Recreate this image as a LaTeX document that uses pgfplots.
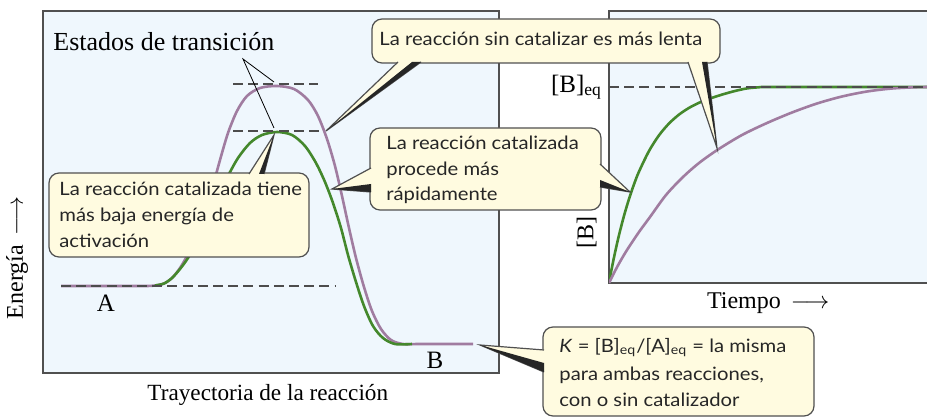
\documentclass[border=0pt]{standalone}
\usepackage{fontspec}
\setmainfont{Liberation Serif}
\newfontfamily\callfont[FakeStretch=1.1]{Lato}
\usepackage{pgfplots}
\pgfplotsset{compat=1.18}

\definecolor{bgblue}{RGB}{239,247,253}
\definecolor{cream}{RGB}{255,251,224}
\definecolor{frame}{RGB}{80,80,80}
\definecolor{curvpur}{RGB}{160,124,160}
\definecolor{curvgrn}{RGB}{68,136,44}

\pgfplotsset{
  panel/.style={
    scale only axis, anchor=south west, y dir=reverse,
    xtick=\empty, ytick=\empty,
    axis line style={draw=frame, line width=0.7pt},
    axis background/.style={fill=bgblue},
    label style={font=\fontsize{12}{14}\selectfont},
  },
  eqline/.style={draw=black!70, line width=0.7pt, dash pattern=on 5pt off 2.6pt},
}
\tikzset{
  callbox/.style={fill=cream, draw=frame, line width=0.6pt, rounded corners=5pt},
  calltext/.style={anchor=base west, inner sep=0pt, text=black!85,
    font=\callfont\fontsize{9.2}{13}\selectfont},
}
% pointer: base 1, base 2, tip, inner point of the dark wedge
\newcommand\pointer[4]{%
  \path[fill=cream, draw=frame, line width=0.6pt] #1 -- #3 -- #2;
  \fill[black!85] #2 -- #3 -- #4 -- cycle;}

\begin{document}
\begin{tikzpicture}
% energy profile (coordinates in pixels of the reference, y downwards)
\begin{axis}[panel,
  at={(21.5pt,22.5pt)}, width=228pt, height=181pt,
  xmin=43, xmax=499, ymin=11, ymax=373,
  xlabel={Trayectoria de la reacción},
  ylabel={Energía \,$\longrightarrow$},
  xlabel style={at={(axis description cs:0.493,-0.061)}, anchor=center,
    font=\fontsize{11.6}{14}\selectfont},
  ylabel style={at={(axis description cs:-0.057,0.318)}, anchor=center},
]
% uncatalysed
\addplot[curvpur, line width=1.3pt, smooth] coordinates {
  (61,286) (110,286) (145,286) (155,285.5) (164,283.5) (172,278) (180,268) (188,254)
  (196,236) (204,214) (212,189) (220,160) (228,133) (237,111) (247,96)
  (260,88) (277,86) (294,89) (308,100) (318,116) (327,139) (335,166)
  (342,196) (349,228) (356,258) (364,287) (372,311) (381,329) (391,340)
  (403,344) (420,344) (473,344)};
% catalysed
\addplot[curvgrn, line width=1.3pt, smooth] coordinates {
  (155,285.5) (164,283.5) (172,278) (180,269) (188,258) (197,242) (207,222)
  (218,197) (228,176) (238,158) (250,143) (262,135) (277,132) (292,135)
  (305,146) (316,163) (325,182) (333,203) (341,228) (348,255) (356,282)
  (364,306) (373,326) (383,338) (395,344) (412,344)};
\addplot[eqline] coordinates {(61,286) (336,286)};
\addplot[eqline] coordinates {(233,84) (318,84)};
\addplot[eqline] coordinates {(233,131) (323,131)};
\end{axis}

% concentration of B against time
\begin{axis}[panel,
  at={(304.5pt,67.5pt)}, width=162.5pt, height=136pt,
  xmin=609, xmax=934, ymin=11, ymax=283,
  ytick={87}, yticklabels={[B]\textsubscript{eq}},
  major tick length=0pt,
  yticklabel style={font=\fontsize{12.5}{14}\selectfont},
  xlabel={Tiempo \,$\longrightarrow$},
  ylabel={[B]},
  xlabel style={at={(axis description cs:0.49,-0.074)}, anchor=center},
  ylabel style={at={(axis description cs:-0.069,0.184)}, anchor=center},
]
\addplot[curvgrn, line width=1.3pt, smooth] coordinates {
  (609,283) (612,267.2) (615,252.7) (619,235.1) (624,215.8) (629,199)
  (634,184.3) (639,171.6) (649,151) (659,135.3) (669,123.5) (679,114.6)
  (689,107.9) (699,102.8) (709,98.9) (722,94.6) (735,91) (747,88.4)
  (759,87.3) (774,87) (934,87)};
\addplot[curvpur, line width=1.3pt, smooth] coordinates {
  (609,283) (614,273) (619,263.5) (627,250) (639,232) (650,217) (666,195)
  (683,177) (699,163) (718,149.5) (742,135) (767,123) (792,112.5)
  (817,103.5) (842,96.5) (867,91.5) (892,88.5) (917,87.2) (934,87)};
\addplot[eqline] coordinates {(609,87) (934,87)};
\end{axis}

% annotations (pixels of the reference, y downwards)
\begin{scope}[x=0.5pt, y=-0.5pt, yshift=209pt]
\draw[line width=0.4pt] (274,82) -- (243,59) -- (274,128);
\node[anchor=base west, inner sep=0pt, font=\fontsize{13}{15}\selectfont]
  at (53,51) {Estados de transición};
\node[font=\fontsize{12.5}{14}\selectfont] at (106,303) {A};
\node[font=\fontsize{12.5}{14}\selectfont] at (435,360) {B};

% catalysed reaction has lower activation energy
\draw[callbox] (49,173) rectangle (309,257);
\pointer{(249,174)}{(264,174)}{(274,135)}{(259,174)}
\node[calltext] at (59,196) {La reacción catalizada tiene};
\node[calltext] at (59,222) {más baja energía de};
\node[calltext] at (59,248) {activación};

% uncatalysed reaction is slower
\draw[callbox] (372,19) rectangle (720,63);
\pointer{(398,62)}{(421,62)}{(326,131)}{(412,62)}
\pointer{(688,62)}{(707,62)}{(717,148)}{(702,62)}
\node[calltext] at (379,46) {La reacción sin catalizar es más lenta};

% catalysed reaction is faster
\draw[callbox] (370,128) rectangle (601,210);
\pointer{(371,168)}{(371,192)}{(332,189)}{(371,184)}
\pointer{(600,164)}{(600,187)}{(630,192)}{(600,180)}
\node[calltext] at (386,150) {La reacción catalizada};
\node[calltext] at (386,176) {procede más};
\node[calltext] at (386,201) {rápidamente};

% same equilibrium constant
\draw[callbox] (543,327) rectangle (814,416);
\pointer{(544,350)}{(544,372)}{(480,345)}{(544,363)}
\node[calltext] at (559,353) {\itshape K\/\upshape{} = [B]\textsubscript{eq}/[A]\textsubscript{eq} = la misma};
\node[calltext] at (559,380) {para ambas reacciones,};
\node[calltext] at (559,407) {con o sin catalizador};
\end{scope}

\pgfresetboundingbox
\useasboundingbox (0,0) rectangle (463.5pt,209pt);
\end{tikzpicture}
\end{document}
